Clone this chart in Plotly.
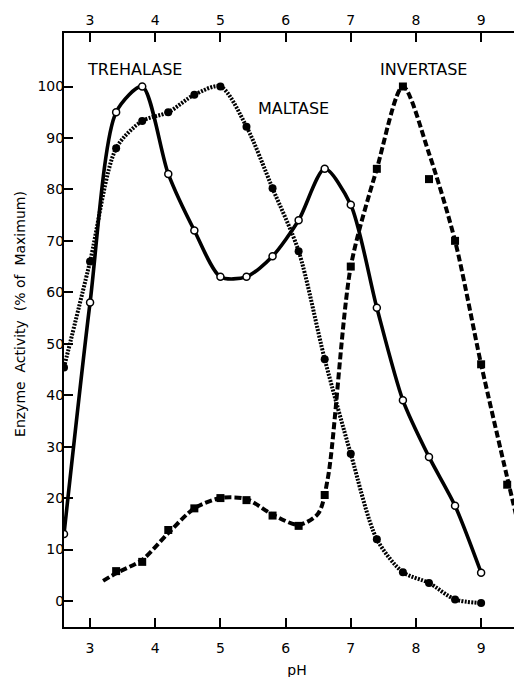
import plotly.graph_objects as go

# pH values
trehalase_ph = [2.6, 3.0, 3.4, 3.8, 4.2, 4.6, 5.0, 5.4, 5.8, 6.2, 6.6, 7.0, 7.4, 7.8, 8.2, 8.6, 9.0]
trehalase_act = [13, 58, 95, 100, 83, 72, 63, 63, 67, 74, 84, 77, 57, 39, 28, 18.5, 5.5]

maltase_ph = [2.6, 3.0, 3.4, 3.8, 4.2, 4.6, 5.0, 5.4, 5.8, 6.2, 6.6, 7.0, 7.4, 7.8, 8.2, 8.6, 9.0]
maltase_act = [45.4, 66, 88, 93.3, 95, 98.4, 100, 92.2, 80.2, 68, 47, 28.6, 12, 5.6, 3.5, 0.3, -0.4]

invertase_ph = [3.4, 3.8, 4.2, 4.6, 5.0, 5.4, 5.8, 6.2, 6.6, 7.0, 7.4, 7.8, 8.2, 8.6, 9.0, 9.4]
invertase_act = [5.8, 7.6, 13.8, 18, 20, 19.6, 16.6, 14.6, 20.6, 65, 84, 100, 82, 70, 46, 22.6]
# fitted invertase curve (extends beyond measured points)
invertase_curve_ph = [3.2, 3.4, 3.8, 4.2, 4.6, 5.0, 5.4, 5.8, 6.2, 6.5, 6.65, 7.0, 7.4, 7.8, 8.2, 8.6, 9.0, 9.4, 9.58]
invertase_curve_act = [3.9, 5.4, 8.0, 13.2, 18, 20, 19.8, 16.8, 14.8, 17, 24, 65, 84, 100, 87, 70, 46, 24, 14.4]

x_ticks = [3, 4, 5, 6, 7, 8, 9]
y_ticks = [0, 10, 20, 30, 40, 50, 60, 70, 80, 90, 100]

labels = ["TREHALASE", "MALTASE", "INVERTASE"]
label_ph = [3.68, 6.12, 8.12]
label_act = [103.4, 95.7, 103.4]

FONT = "DejaVu Sans"

fig = go.Figure()

fig.add_trace(go.Scatter(
    x=maltase_ph, y=maltase_act, mode="lines+markers",
    line=dict(color="black", width=4, dash="2px,1.3px", shape="spline", smoothing=0.8),
    marker=dict(symbol="circle", size=8, color="black"),
    showlegend=False, hoverinfo="skip"))

fig.add_trace(go.Scatter(
    x=invertase_curve_ph, y=invertase_curve_act, mode="lines",
    line=dict(color="black", width=4, dash="7px,3px", shape="spline", smoothing=0.8),
    showlegend=False, hoverinfo="skip"))
fig.add_trace(go.Scatter(
    x=invertase_ph, y=invertase_act, mode="markers",
    marker=dict(symbol="square", size=8, color="black"),
    showlegend=False, hoverinfo="skip"))

fig.add_trace(go.Scatter(
    x=trehalase_ph, y=trehalase_act, mode="lines+markers",
    line=dict(color="black", width=3.6, shape="spline", smoothing=0.75),
    marker=dict(symbol="circle", size=7, color="white", line=dict(color="black", width=1.5)),
    showlegend=False, hoverinfo="skip"))

# invisible trace so the top (mirrored) pH axis is drawn
fig.add_trace(go.Scatter(
    x=trehalase_ph, y=trehalase_act, mode="lines", xaxis="x2",
    line=dict(width=0), opacity=0, showlegend=False, hoverinfo="skip"))

for t, px, py in zip(labels, label_ph, label_act):
    fig.add_annotation(x=px, y=py, text=t, showarrow=False,
                       font=dict(family=FONT, size=16, color="black"),
                       xanchor="center", yanchor="middle")

FIG_W, FIG_H = 522, 677
PLOT_W = FIG_W - 56
fig.add_annotation(xref="paper", yref="paper", x=(12 - 56) / PLOT_W, y=0.527,
                   text="Enzyme  Activity  (% of  Maximum)", textangle=-90,
                   showarrow=False, font=dict(family=FONT, size=14, color="black"),
                   xanchor="center", yanchor="middle")

axis_common = dict(showgrid=False, zeroline=False, showline=True, linecolor="black",
                   linewidth=2, ticks="inside", ticklen=9, tickwidth=1.5, tickcolor="black",
                   automargin=False,
                   tickfont=dict(family=FONT, size=14, color="black"))

fig.update_layout(
    width=FIG_W, height=FIG_H,
    margin=dict(l=56, r=0, t=25, b=58),
    plot_bgcolor="white", paper_bgcolor="white",
    xaxis=dict(range=[2.6, 9.75], tickvals=x_ticks, ticklabelstandoff=7,
               title=dict(text="pH", font=dict(family=FONT, size=14, color="black"), standoff=10),
               **axis_common),
    xaxis2=dict(range=[2.6, 9.75], tickvals=x_ticks, overlaying="x", side="top",
                anchor="y", **axis_common),
    yaxis=dict(range=[-5.06, 110.4], tickvals=y_ticks, ticklabelstandoff=-5, **axis_common),
)

fig.write_html("out.html")
